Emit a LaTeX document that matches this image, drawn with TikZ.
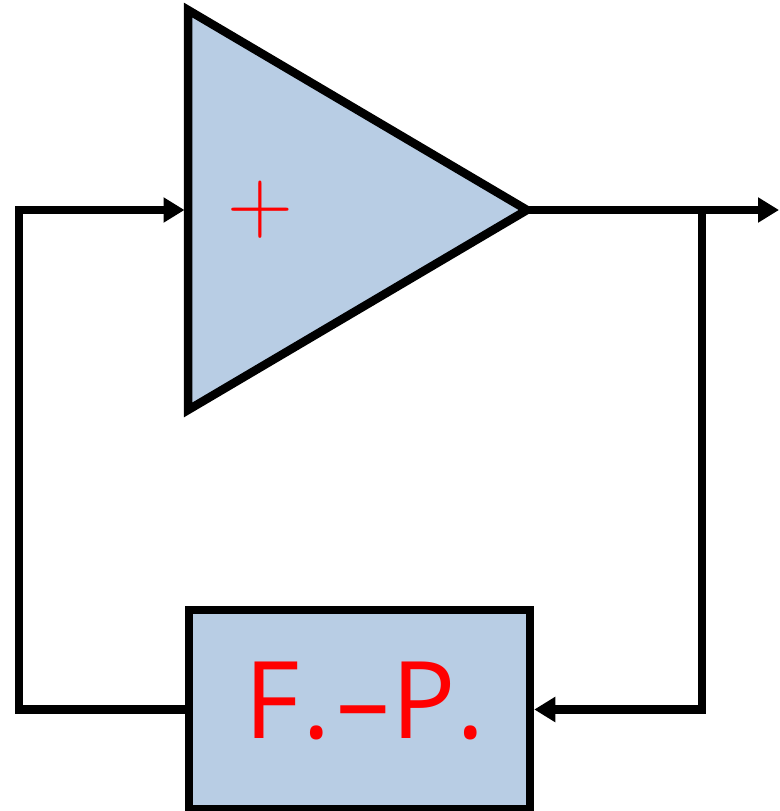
\documentclass[tikz,border=0pt]{standalone}
\usepackage{fontspec}
\setmainfont{Open Sans}
\usetikzlibrary{arrows.meta,positioning,calc,shapes.geometric}
\definecolor{blockblue}{RGB}{184,205,228}
\tikzset{
    wire/.style={line width=0.17cm},
    wirearrow/.style={wire,-{Triangle[length=0.42cm,width=0.48cm]}},
    block/.style={draw=black,line width=0.17cm,fill=blockblue}
}

\begin{document}
\begin{tikzpicture}
    \useasboundingbox (0,0) rectangle (15.58,-16.22);

    \node[
        block,
        shape=isosceles triangle,
        isosceles triangle stretches,
        minimum width=8cm,
        minimum height=6.78cm,
        inner sep=0pt,
        outer sep=0pt,
        anchor=lower side
    ] (amp) at (3.76,-4.2) {};
    \node[text=red,font=\fontfamily{lmr}\fontsize{52}{52}\selectfont] (sign) at (5.2,-4.2) {+};

    \node[
        block,
        minimum width=6.82cm,
        minimum height=3.98cm
    ] (fp) at (7.19,-14.19) {};
    \node[text=red,anchor=base,font=\fontsize{61}{61}\selectfont] (fplabel) at ([xshift=0.1cm,yshift=-0.57cm]fp.center) {F\kern0.06cm.\kern0.1cm–\kern0.04cm P\kern0cm.};

    \coordinate (tap) at (14.04,-4.2);
    \coordinate (out) at (15.58,-4.2);
    \coordinate (ret) at (0.38,-4.2);

    % forward path and feedback loop
    \draw[wirearrow] (amp.apex) -- (out);
    \draw[wirearrow] (tap) -- (tap |- fp.east) -- (fp.east);
    \draw[wirearrow,shorten >=0.07cm] (fp.west) -- (ret |- fp.west) -- (ret) -- (amp.lower side);
\end{tikzpicture}
\end{document}
